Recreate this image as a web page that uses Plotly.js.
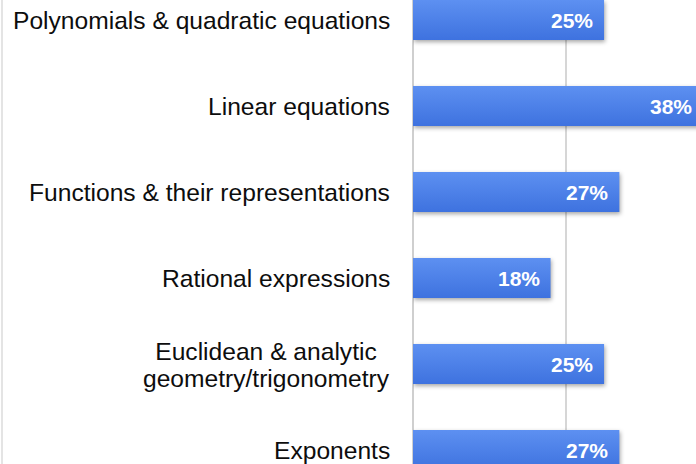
<!DOCTYPE html>
<html>
<head>
<meta charset="utf-8">
<script src="https://cdn.plot.ly/plotly-3.0.1.min.js"></script>
<style>
  html, body { margin: 0; padding: 0; background: #ffffff; overflow: hidden; width: 696px; height: 464px; }
  #frame { position: relative; width: 696px; height: 464px; overflow: hidden; }
  #edge { position: absolute; left: 1px; top: 0; width: 2px; height: 464px; background: #e4e4e4; z-index: 5; }
  #chart { position: absolute; left: 0; top: -23px; width: 734px; height: 516px; }
  #chart .bars path { fill: url(#barGrad) !important; filter: drop-shadow(1px 2px 2px rgba(0,0,0,0.35)); }
</style>
</head>
<body>
<svg width="0" height="0" style="position:absolute">
  <defs>
    <linearGradient id="barGrad" x1="0" y1="0" x2="0" y2="1">
      <stop offset="0" stop-color="#5d90f1"/>
      <stop offset="1" stop-color="#3e72df"/>
    </linearGradient>
  </defs>
</svg>
<div id="frame">
  <div id="edge"></div>
  <div id="chart"></div>
</div>
<script>
const categories = [
  "Polynomials & quadratic equations",
  "Linear equations",
  "Functions & their representations",
  "Rational expressions",
  "Euclidean & analytic<br>geometry/trigonometry",
  "Exponents"
];
const values = [25, 38, 27, 18, 25, 27];
const valueLabels = ["25%", "38%", "27%", "18%", "25%", "27%"];

const barTrace = {
  type: "bar",
  orientation: "h",
  x: values,
  y: categories,
  marker: { color: "#4a7fe9", line: { width: 0 } },
  hoverinfo: "none"
};

const labelFont = { family: "Liberation Sans, Arial, Helvetica, sans-serif", size: 24.6, color: "#0d0d0d" };
const valueFont = { family: "Liberation Sans, Arial, Helvetica, sans-serif", size: 21, color: "#ffffff", weight: "bold" };

const annotations = [];
categories.forEach((c, i) => {
  const multi = c.indexOf("<br>") >= 0;
  annotations.push({
    xref: "paper", yref: "y", x: 0, y: c,
    text: c, showarrow: false, xanchor: "right", yanchor: "middle",
    align: "center", xshift: -21, yshift: multi ? -3 : 0, font: labelFont,
    name: multi ? "multi" : "single"
  });
  annotations.push({
    xref: "x", yref: "y", x: values[i], y: c,
    text: "<b>" + valueLabels[i] + "</b>", showarrow: false, xanchor: "right", yanchor: "middle",
    xshift: -9, font: valueFont
  });
});

const layout = {
  width: 734, height: 516,
  margin: { l: 413, r: 0, t: 0, b: 0, pad: 0 },
  paper_bgcolor: "#ffffff", plot_bgcolor: "#ffffff",
  showlegend: false,
  bargap: 0.535,
  xaxis: {
    range: [0, 42], dtick: 20, tick0: 0,
    showgrid: true, gridcolor: "#d6d6d6", gridwidth: 1.5,
    zeroline: true, zerolinecolor: "#cfcfcf", zerolinewidth: 2,
    showticklabels: false, ticks: "", showline: false, fixedrange: true
  },
  yaxis: {
    type: "category", autorange: "reversed",
    showgrid: false, zeroline: false, showticklabels: false, ticks: "", showline: false, fixedrange: true
  },
  annotations: annotations
};

Plotly.newPlot("chart", [barTrace], layout, { displayModeBar: false, staticPlot: true }).then(gd => {
  // tighten line spacing of the two-line category label
  gd.querySelectorAll(".annotation-text tspan.line").forEach((t, k) => {
    if (k > 0 && t.getAttribute("dy")) t.setAttribute("dy", "1.1em");
  });
});
</script>
</body>
</html>
